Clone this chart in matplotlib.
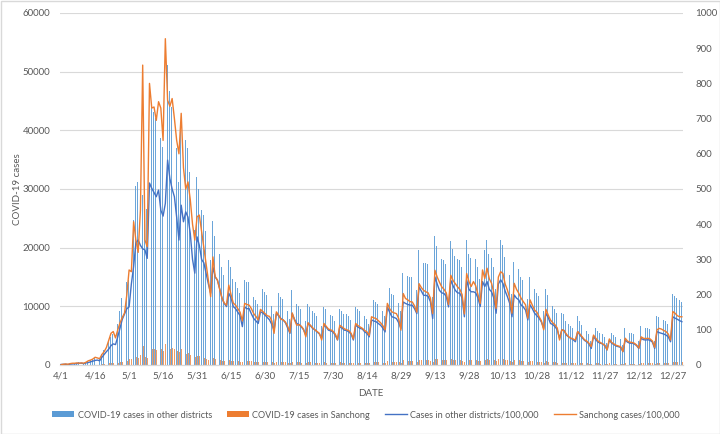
import numpy as np
import matplotlib
matplotlib.use("Agg")
import matplotlib.pyplot as plt
from matplotlib.patches import Rectangle, Patch
from matplotlib.lines import Line2D

plt.rcParams['font.family'] = ['Lato', 'DejaVu Sans']

# x-axis labels (every 15th day starting 4/1)
tick_labels = ["4/1", "4/16", "5/1", "5/16", "5/31", "6/15", "6/30", "7/15", "7/30",
               "8/14", "8/29", "9/13", "9/28", "10/13", "10/28", "11/12", "11/27",
               "12/12", "12/27"]
tick_step = 15

# Daily COVID-19 cases in other districts (left axis), 4/1 - 12/31
other_cases = [
    # April
    130, 180, 170, 120, 220, 260, 310, 350, 440, 430, 360, 530, 620, 790, 970,
    1140, 1230, 1060, 1940, 2640, 3340, 3960, 4840, 5280, 5100, 7040, 9240, 11440, 12760, 14080,
    # May
    14520, 20240, 24640, 30540, 31240, 29920, 29040, 28780, 26660, 45500, 44180, 43120, 42060, 43740, 38720,
    37220, 40390, 51220, 46640, 44000, 42060, 36960, 31240, 39950, 35820, 38280, 36960, 32910, 26400, 22970, 32030,
    # June
    29920, 26400, 25520, 22880, 20240, 17950, 24550, 22000, 21210, 18920, 16720, 15400, 14610, 17950, 16720,
    14610, 14080, 13200, 12320, 9590, 14520, 14080, 14080, 12760, 11620, 11000, 10380, 13290, 13020, 12500,
    # July
    11880, 11260, 10120, 8710, 12850, 12320, 11620, 11260, 10560, 9240, 7920, 12850, 11440, 10380, 10120,
    9590, 8800, 7480, 10380, 9860, 9150, 8800, 8270, 7740, 6690, 9940, 9500, 8710, 8540, 8270, 7480,
    # August
    6250, 9590, 9240, 8710, 8620, 8270, 7740, 6250, 9940, 9500, 9150, 8980, 8270, 7920, 7040,
    11260, 11000, 10820, 10380, 9940, 9240, 8270, 14520, 13200, 12060, 11880, 11620, 10560, 9150, 15750, 15400,
    # September
    15140, 14960, 14960, 14080, 12850, 19540, 18480, 17420, 17420, 17160, 15840, 11620, 22000, 20240, 18660,
    18040, 17860, 17160, 14520, 21210, 19800, 18660, 18040, 17950, 16720, 12060, 21300, 18920, 18300, 18300,
    # October
    18040, 16720, 14610, 23800, 19620, 21300, 18920, 18300, 16720, 12940, 21600, 21300, 20420, 18480, 17070,
    15400, 12060, 17510, 16720, 16280, 15050, 14520, 13730, 11260, 15050, 14080, 12940, 12320, 11700, 10740, 9150,
    # November
    12940, 11880, 10380, 10120, 9590, 8800, 6690, 8800, 8620, 7480, 7040, 6690, 6340, 5810, 8360,
    7480, 6860, 6160, 5810, 5280, 4140, 7130, 6340, 5720, 5460, 5280, 4840, 3780, 6250, 5460,
    # December
    5100, 4750, 4580, 4400, 3340, 6250, 5720, 5460, 5460, 5280, 4840, 4140, 6690, 6340, 6250,
    6340, 6160, 5720, 4140, 8360, 8100, 7920, 7740, 7480, 7040, 5810, 12060, 11700, 11440, 11090, 10820,
]

# Daily COVID-19 cases in Sanchong (left axis)
sanchong_cases = [
    # April
    4, 8, 11, 8, 15, 19, 19, 23, 19, 23, 19, 30, 46, 53, 65,
    84, 76, 68, 114, 144, 190, 266, 342, 361, 293, 380, 456, 513, 562, 760,
    # May
    1026, 1007, 1547, 1349, 1216, 1672, 3238, 1349, 1277, 3040, 2774, 2785, 2641, 2842, 2774,
    2424, 3523, 2858, 2793, 2877, 2660, 2424, 2280, 2717, 2128, 1900, 1976, 1786, 1520, 1349, 1600,
    # June
    1619, 1444, 1277, 1102, 912, 737, 1167, 954, 916, 817, 722, 669, 646, 863, 760,
    669, 646, 608, 570, 475, 665, 654, 646, 608, 555, 524, 486, 600, 578, 555,
    # July
    532, 524, 475, 342, 574, 540, 494, 486, 464, 418, 350, 562, 486, 429, 437,
    418, 388, 304, 456, 429, 403, 380, 361, 342, 270, 448, 418, 388, 380, 365, 334,
    # August
    274, 429, 410, 391, 380, 372, 342, 281, 448, 426, 410, 395, 372, 357, 319,
    521, 509, 502, 479, 456, 426, 380, 665, 608, 574, 562, 555, 502, 376, 771, 718,
    # September
    703, 684, 680, 638, 570, 878, 836, 806, 790, 779, 722, 555, 1022, 950, 893,
    844, 817, 779, 654, 969, 912, 878, 844, 817, 760, 551, 988, 901, 847, 901,
    # October
    855, 760, 665, 1026, 935, 1045, 931, 882, 779, 612, 950, 1007, 988, 874, 809,
    722, 559, 882, 817, 775, 722, 684, 650, 505, 703, 646, 593, 570, 521, 475, 380,
    # November
    600, 540, 486, 456, 433, 399, 270, 380, 372, 334, 304, 289, 281, 270, 361,
    334, 304, 274, 258, 236, 198, 323, 289, 258, 243, 228, 213, 163, 281, 243,
    # December
    228, 213, 205, 198, 144, 289, 258, 247, 243, 236, 217, 182, 304, 289, 285,
    289, 281, 258, 190, 380, 395, 388, 372, 361, 334, 270, 578, 559, 532, 521, 521,
]

# Cases in other districts per 100,000 (right axis)
other_rate = [
    # April
    1.5, 2, 2, 1.5, 2.5, 3, 3.5, 4, 5, 5, 4, 6, 7, 9, 11,
    13, 14, 12, 22, 30, 38, 45, 55, 60, 58, 80, 105, 130, 145, 160,
    # May
    165, 230, 280, 347, 355, 340, 330, 327, 303, 517, 502, 490, 478, 497, 440,
    423, 459, 582, 530, 500, 478, 420, 355, 454, 407, 435, 420, 374, 300, 261, 364,
    # June
    340, 300, 290, 260, 230, 204, 279, 250, 241, 215, 190, 175, 166, 204, 190,
    166, 160, 150, 140, 109, 165, 160, 160, 145, 132, 125, 118, 151, 148, 142,
    # July
    135, 128, 115, 99, 146, 140, 132, 128, 120, 105, 90, 146, 130, 118, 115,
    109, 100, 85, 118, 112, 104, 100, 94, 88, 76, 113, 108, 99, 97, 94, 85,
    # August
    71, 109, 105, 99, 98, 94, 88, 71, 113, 108, 104, 102, 94, 90, 80,
    128, 125, 123, 118, 113, 105, 94, 165, 150, 137, 135, 132, 120, 104, 179, 175,
    # September
    172, 170, 170, 160, 146, 222, 210, 198, 198, 195, 180, 132, 250, 230, 212,
    205, 203, 195, 165, 241, 225, 212, 205, 204, 190, 137, 242, 215, 208, 208,
    # October
    205, 190, 166, 237, 223, 237, 215, 208, 190, 147, 230, 242, 232, 210, 194,
    175, 137, 199, 190, 185, 171, 165, 156, 128, 171, 160, 147, 140, 133, 122, 104,
    # November
    147, 135, 118, 115, 109, 100, 76, 100, 98, 85, 80, 76, 72, 66, 95,
    85, 78, 70, 66, 60, 47, 81, 72, 65, 62, 60, 55, 43, 71, 62,
    # December
    58, 54, 52, 50, 38, 71, 65, 62, 62, 60, 55, 47, 76, 72, 71,
    72, 70, 65, 47, 95, 92, 90, 88, 85, 80, 66, 137, 133, 130, 126, 123,
]

# Sanchong cases per 100,000 (right axis)
sanchong_rate = [
    # April
    1, 2, 3, 2, 4, 5, 5, 6, 5, 6, 5, 8, 12, 14, 17,
    22, 20, 18, 30, 38, 50, 70, 90, 95, 77, 100, 120, 135, 148, 200,
    # May
    270, 265, 407, 355, 320, 440, 852, 355, 336, 800, 730, 733, 695, 748, 730,
    638, 927, 752, 735, 757, 700, 638, 600, 715, 560, 500, 520, 470, 400, 355, 421,
    # June
    426, 380, 336, 290, 240, 194, 307, 251, 241, 215, 190, 176, 170, 227, 200,
    176, 170, 160, 150, 125, 175, 172, 170, 160, 146, 138, 128, 158, 152, 146,
    # July
    140, 138, 125, 90, 151, 142, 130, 128, 122, 110, 92, 148, 128, 113, 115,
    110, 102, 80, 120, 113, 106, 100, 95, 90, 71, 118, 110, 102, 100, 96, 88,
    # August
    72, 113, 108, 103, 100, 98, 90, 74, 118, 112, 108, 104, 98, 94, 84,
    137, 134, 132, 126, 120, 112, 100, 175, 160, 151, 148, 146, 132, 99, 203, 189,
    # September
    185, 180, 179, 168, 150, 231, 220, 212, 208, 205, 190, 146, 269, 250, 235,
    222, 215, 205, 172, 255, 240, 231, 222, 215, 200, 145, 260, 237, 223, 237,
    # October
    225, 200, 175, 270, 246, 275, 245, 232, 205, 161, 250, 265, 260, 230, 213,
    190, 147, 232, 215, 204, 190, 180, 171, 133, 185, 170, 156, 150, 137, 125, 100,
    # November
    158, 142, 128, 120, 114, 105, 71, 100, 98, 88, 80, 76, 74, 71, 95,
    88, 80, 72, 68, 62, 52, 85, 76, 68, 64, 60, 56, 43, 74, 64,
    # December
    60, 56, 54, 52, 38, 76, 68, 65, 64, 62, 57, 48, 80, 76, 75,
    76, 74, 68, 50, 100, 104, 102, 98, 95, 88, 71, 152, 147, 140, 137, 137,
]

series_names = ["COVID-19 cases in other districts", "COVID-19 cases in Sanchong",
                "Cases in other districts/100,000", "Sanchong cases/100,000"]

BLUE_BAR = '#5B9BD5'
ORANGE = '#ED7D31'
BLUE_LINE = '#4472C4'
TXT = '#595959'
GRID = '#D9D9D9'
FS = 7

fig = plt.figure(figsize=(7.2, 4.34), dpi=100)
W, H = 720, 434
ax = fig.add_axes([60 / W, 69 / H, 623 / W, 352 / H])
x = np.arange(len(other_cases))

ax.bar(x - 0.2, other_cases, width=0.34, color=BLUE_BAR, alpha=0.9, linewidth=0, zorder=2)
ax.bar(x + 0.2, sanchong_cases, width=0.34, color=ORANGE, alpha=0.75, linewidth=0, zorder=2)
ax.set_xlim(-0.5, len(x) - 0.5)
ax.set_ylim(0, 60000)
ax.set_yticks(np.arange(0, 60001, 10000))
ax.grid(axis='y', color=GRID, linewidth=0.8, zorder=0)
ax.set_axisbelow(True)
ax.set_xticks(np.arange(0, len(x), tick_step)[:len(tick_labels)])
ax.set_xticklabels(tick_labels)

ax2 = ax.twinx()
ax2.plot(x, other_rate, color=BLUE_LINE, linewidth=1.0, zorder=3)
ax2.plot(x, sanchong_rate, color=ORANGE, linewidth=1.0, zorder=3)
ax2.set_ylim(0, 1000)
ax2.set_yticks(np.arange(0, 1001, 100))
ax2.set_xlim(-0.5, len(x) - 0.5)

for a in (ax, ax2):
    for s in ('top', 'left', 'right'):
        a.spines[s].set_visible(False)
    a.spines['bottom'].set_color(GRID)
    a.tick_params(length=0, labelsize=FS, labelcolor=TXT)
ax.tick_params(axis='x', pad=5)
ax.tick_params(axis='y', pad=7)
ax2.tick_params(axis='y', pad=9)

fig.text(371 / W, 1 - 393 / H, 'DATE', ha='center', va='center', fontsize=FS, color=TXT)
fig.text(17 / W, 1 - 189 / H, 'COVID-19 cases', ha='center', va='center',
         rotation=90, fontsize=FS, color=TXT)

handles = [Patch(facecolor=BLUE_BAR, edgecolor='none'),
           Patch(facecolor=ORANGE, edgecolor='none'),
           Line2D([], [], color=BLUE_LINE, linewidth=1.0),
           Line2D([], [], color=ORANGE, linewidth=1.0)]
fig.legend(handles, series_names, loc='center', bbox_to_anchor=(366 / W, 19 / H),
           ncol=4, frameon=False, fontsize=6.6, labelcolor=TXT,
           handlelength=2.4, handleheight=0.55, columnspacing=1.6, handletextpad=0.4)

fig.patches.append(Rectangle((0.5 / W, 0.5 / H), 1 - 1 / W, 1 - 1 / H, transform=fig.transFigure,
                             fill=False, edgecolor='#D9D9D9', linewidth=1))

fig.savefig('out.png', dpi=100)
